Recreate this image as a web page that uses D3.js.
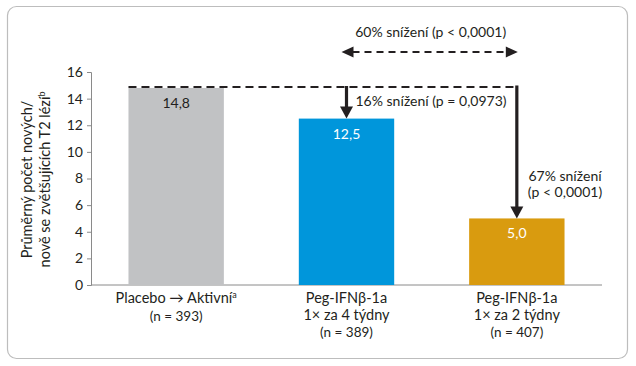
<!DOCTYPE html>
<html><head><meta charset="utf-8">
<script src="https://cdn.jsdelivr.net/npm/d3@7"></script>
<style>body{margin:0;background:#fff}svg{display:block}text{font-family:Lato,"Open Sans",sans-serif;fill:#231f20}</style>
</head><body>
<svg id="c" width="636" height="366"></svg>
<script>
const categories = ["placebo", "q4w", "q2w"];
const catLabels = [["Placebo → Aktivní"], ["Peg-IFNβ-1a", "1× za 4 týdny"], ["Peg-IFNβ-1a", "1× za 2 týdny"]];
const nLabels = ["(n = 393)", "(n = 389)", "(n = 407)"];
const values = [14.8, 12.5, 5.0];
const valueLabels = ["14,8", "12,5", "5,0"];
const colors = ["#c1c2c4", "#0096db", "#d99b0f"];
const yTicks = [0, 2, 4, 6, 8, 10, 12, 14, 16];
const annTop = "60% snížení (p < 0,0001)";
const ann16 = "16% snížení (p = 0,0973)";
const ann67 = ["67% snížení", "(p < 0,0001)"];
const yTitle = ["Průměrný počet nových/", "nově se zvětšujících T2 lézí"];

const svg = d3.select("#c");
svg.append("rect").attr("x", 7.5).attr("y", 6.5).attr("width", 620).attr("height", 352)
  .attr("rx", 9).attr("fill", "#fff").attr("stroke", "#bdbdbd").attr("stroke-width", 1.2);

const x = d3.scaleBand().domain(categories).range([91, 602]).paddingInner(0.44).paddingOuter(0.22);
const y = d3.scaleLinear().domain([0, 16]).range([285, 72]);

// axes
const yAxis = svg.append("g").attr("transform", "translate(91,0)")
  .call(d3.axisLeft(y).tickValues(yTicks).tickSize(4).tickPadding(4));
yAxis.select(".domain").attr("stroke", "#8a8a8a");
yAxis.selectAll(".tick line").attr("stroke", "#8a8a8a");
yAxis.selectAll(".tick text").attr("font-size", 14).attr("font-family", "Lato,'Open Sans',sans-serif").attr("fill", "#231f20");

svg.append("line").attr("x1", 91).attr("x2", 602).attr("y1", y(0)).attr("y2", y(0))
  .attr("stroke", "#8a8a8a").attr("stroke-width", 1);

// bars
svg.selectAll(".bar").data(values).enter().append("rect")
  .attr("x", (d, i) => x(categories[i])).attr("width", x.bandwidth())
  .attr("y", d => y(d)).attr("height", d => y(0) - y(d))
  .attr("fill", (d, i) => colors[i]);

svg.selectAll(".vl").data(values).enter().append("text")
  .attr("x", (d, i) => x(categories[i]) + x.bandwidth() / 2)
  .attr("y", d => y(d) + 20).attr("text-anchor", "middle").attr("font-size", 14)
  .style("fill", (d, i) => i === 0 ? "#231f20" : "#fff")
  .text((d, i) => valueLabels[i]);

// category labels
categories.forEach((c, i) => {
  const cx = x(c) + x.bandwidth() / 2;
  const t = svg.append("text").attr("text-anchor", "middle").attr("font-size", 14.5);
  catLabels[i].forEach((l, j) => {
    const ts = t.append("tspan").attr("x", cx).attr("y", 303 + j * 16.5).text(l);
    if (i === 0) ts.append("tspan").attr("font-size", 9).attr("dy", -5).text("a");
  });
  svg.append("text").attr("text-anchor", "middle").attr("font-size", 13.5)
    .attr("x", cx).attr("y", 303 + catLabels[i].length * 16.5 + 1).text(nLabels[i]);
});

// y title
const yt = svg.append("text").attr("transform", `translate(0,${y(8) + 1}) rotate(-90)`)
  .attr("text-anchor", "middle").attr("font-size", 14.5);
yt.append("tspan").attr("x", 0).attr("y", 32).text(yTitle[0]);
const t2 = yt.append("tspan").attr("x", 0).attr("y", 50).text(yTitle[1]);
t2.append("tspan").attr("font-size", 9).attr("dy", -5).text("b");

// reference dashed line at placebo level
const cx1 = x(categories[1]) + x.bandwidth() / 2;
const cx2 = x(categories[2]) + x.bandwidth() / 2;
const yRef = y(values[0]) - 1;
svg.append("line").attr("x1", x(categories[0])).attr("x2", cx2).attr("y1", yRef).attr("y2", yRef)
  .attr("stroke", "#231f20").attr("stroke-width", 2).attr("stroke-dasharray", "8,5");

// down arrows
function downArrow(cx, y0, y1) {
  svg.append("line").attr("x1", cx).attr("x2", cx).attr("y1", y0).attr("y2", y1 - 10)
    .attr("stroke", "#231f20").attr("stroke-width", 3.2);
  svg.append("path").attr("d", `M${cx - 6.5},${y1 - 12}L${cx + 6.5},${y1 - 12}L${cx},${y1}Z`).attr("fill", "#231f20");
}
downArrow(cx1, yRef - 1, y(values[1]));
downArrow(cx2, yRef - 1.5, y(values[2]));

// horizontal dashed double arrow
const ya = 52;
svg.append("line").attr("x1", cx1 + 6).attr("x2", cx2 - 6).attr("y1", ya).attr("y2", ya)
  .attr("stroke", "#231f20").attr("stroke-width", 2).attr("stroke-dasharray", "7,5");
svg.append("path").attr("d", `M${cx1 - 5},${ya}L${cx1 + 7},${ya - 5.5}L${cx1 + 7},${ya + 5.5}Z`).attr("fill", "#231f20");
svg.append("path").attr("d", `M${cx2 + 1},${ya}L${cx2 - 11},${ya - 5.5}L${cx2 - 11},${ya + 5.5}Z`).attr("fill", "#231f20");

svg.append("text").attr("x", (cx1 + cx2) / 2 - 1).attr("y", 37).attr("text-anchor", "middle")
  .attr("font-size", 14).text(annTop);
svg.append("text").attr("x", cx1 + 9).attr("y", 106).attr("font-size", 14).text(ann16);
svg.append("text").attr("x", 565).attr("y", 181).attr("text-anchor", "middle").attr("font-size", 14).text(ann67[0]);
svg.append("text").attr("x", 565).attr("y", 197).attr("text-anchor", "middle").attr("font-size", 14).text(ann67[1]);
</script>
</body></html>
